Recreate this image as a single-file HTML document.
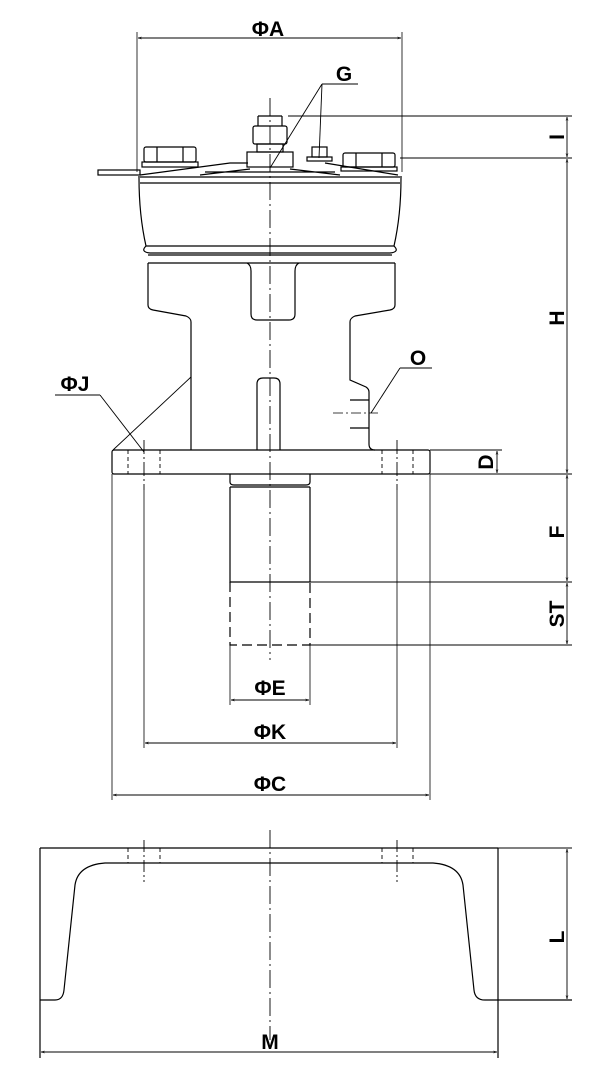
<!DOCTYPE html>
<html><head><style>html,body{margin:0;padding:0;background:#fff}svg{display:block}</style></head>
<body>
<svg width="600" height="1073" viewBox="0 0 600 1073" xmlns="http://www.w3.org/2000/svg" font-family="Liberation Sans, sans-serif" font-weight="bold" font-size="21">
<defs>
<marker id="a" viewBox="0 0 10 10" refX="10" refY="5" markerWidth="6" markerHeight="4" orient="auto-start-reverse"><path d="M0,2 L10,5 L0,8" fill="none" stroke="#000" stroke-width="1.2"/></marker>
</defs>
<g stroke="#000" stroke-width="1.2" fill="none">
<line x1="270" y1="98" x2="270" y2="660" stroke-dasharray="18,4,2,4" stroke-width="0.9"/>
<line x1="137" y1="32" x2="137" y2="172" stroke-width="0.8"/>
<line x1="402" y1="32" x2="402" y2="172" stroke-width="0.8"/>
<line x1="138" y1="38" x2="401" y2="38" stroke-width="0.9" marker-start="url(#a)" marker-end="url(#a)"/>
<line x1="322" y1="84" x2="358" y2="84" stroke-width="0.9"/>
<line x1="322" y1="84" x2="270" y2="168" stroke-width="0.9"/>
<line x1="322" y1="84" x2="319" y2="158" stroke-width="0.9"/>
<rect x="98" y="170" width="42" height="5"/>
<rect x="144" y="147" width="52" height="15" rx="2"/>
<line x1="157" y1="147" x2="157" y2="162"/><line x1="183" y1="147" x2="183" y2="162"/>
<rect x="142" y="162" width="56" height="5"/>
<rect x="343" y="153" width="52" height="14" rx="2"/>
<line x1="356" y1="153" x2="356" y2="167"/><line x1="382" y1="153" x2="382" y2="167"/>
<rect x="341" y="167" width="56" height="4"/>
<line x1="258" y1="126" x2="258" y2="116"/><line x1="282" y1="126" x2="282" y2="116"/><line x1="258" y1="116" x2="282" y2="116"/>
<rect x="253" y="126" width="34" height="18" rx="2"/>
<rect x="257" y="144" width="26" height="8"/>
<rect x="247" y="152" width="46" height="15"/>
<rect x="312" y="147" width="15" height="10"/>
<rect x="307" y="157" width="25" height="4"/>
<path d="M140,175 L230,163 L248,163 M398,175 L325,163 M200,175 L250,169 M340,175 L290,169 M205,172 L335,172"/>
<path d="M138,177 L402,177"/>
<path d="M140,183 L400,183 M139,178 Q139,215 146,246 L394,246 Q401,215 401,178"/>
<path d="M146,246 Q140,252 150,253 L390,253 Q400,252 394,246"/>
<path d="M148,255 L392,255"/>
<path d="M148,263 L395,263 M148,263 L148,305 Q148,309 153,310 L186,316 Q191,318 191,322 L191,450 M395,263 L395,305 Q395,309 390,310 L355,316 Q350,318 350,322 L350,380 L366,387 Q369,389 369,392 L369,444 Q369,450 375,450"/>
<path d="M247,263 Q251,265 251,271 L251,314 Q251,320 257,320 L289,320 Q295,320 295,314 L295,271 Q295,265 299,263"/>
<path d="M257,450 L257,384 Q257,378 263,378 L274,378 Q280,378 280,384 L280,450"/>
<line x1="350" y1="400" x2="369" y2="400"/><line x1="350" y1="428" x2="369" y2="428"/>
<line x1="333" y1="413" x2="378" y2="413" stroke-width="0.8" stroke-dasharray="10,3,2,3"/>
<line x1="191" y1="377" x2="113" y2="450" stroke-width="0.9"/>
<rect x="112" y="450" width="318" height="24" rx="2"/>
<g stroke-dasharray="4,3" stroke-width="0.9"><line x1="128" y1="450" x2="128" y2="474"/><line x1="160" y1="450" x2="160" y2="474"/><line x1="382" y1="450" x2="382" y2="474"/><line x1="413" y1="450" x2="413" y2="474"/></g>
<g stroke-dasharray="14,3,2,3" stroke-width="0.9"><line x1="144" y1="440" x2="144" y2="490"/><line x1="397" y1="440" x2="397" y2="490"/></g>
<path d="M230,474 L230,482 Q230,485 234,485 L306,485 Q310,485 310,482 L310,474"/>
<path d="M230,487 L230,582 L310,582 L310,487 M230,487 L310,487"/>
<path d="M230,582 L230,645 L310,645 L310,582" stroke-dasharray="10,5"/>
<line x1="310" y1="582" x2="572" y2="582" stroke-width="0.9"/>
<line x1="310" y1="645" x2="572" y2="645" stroke-width="0.9"/>
<line x1="230" y1="645" x2="230" y2="705" stroke-width="0.8"/>
<line x1="310" y1="645" x2="310" y2="705" stroke-width="0.8"/>
<line x1="231" y1="700" x2="309" y2="700" stroke-width="0.9" marker-start="url(#a)" marker-end="url(#a)"/>
<line x1="144" y1="490" x2="144" y2="748" stroke-width="0.8"/>
<line x1="397" y1="490" x2="397" y2="748" stroke-width="0.8"/>
<line x1="145" y1="743" x2="396" y2="743" stroke-width="0.9" marker-start="url(#a)" marker-end="url(#a)"/>
<line x1="112" y1="474" x2="112" y2="800" stroke-width="0.8"/>
<line x1="430" y1="474" x2="430" y2="800" stroke-width="0.8"/>
<line x1="113" y1="795" x2="429" y2="795" stroke-width="0.9" marker-start="url(#a)" marker-end="url(#a)"/>
<line x1="288" y1="116" x2="572" y2="116" stroke-width="0.9"/>
<line x1="400" y1="158" x2="572" y2="158" stroke-width="0.9"/>
<line x1="430" y1="474" x2="572" y2="474" stroke-width="0.9"/>
<line x1="430" y1="450" x2="502" y2="450" stroke-width="0.9"/>
<line x1="567" y1="117" x2="567" y2="157" stroke-width="0.9" marker-start="url(#a)" marker-end="url(#a)"/>
<line x1="567" y1="159" x2="567" y2="473" stroke-width="0.9" marker-start="url(#a)" marker-end="url(#a)"/>
<line x1="567" y1="475" x2="567" y2="581" stroke-width="0.9" marker-start="url(#a)" marker-end="url(#a)"/>
<line x1="567" y1="583" x2="567" y2="644" stroke-width="0.9" marker-start="url(#a)" marker-end="url(#a)"/>
<line x1="497" y1="451" x2="497" y2="473" stroke-width="0.9" marker-start="url(#a)" marker-end="url(#a)"/>
<line x1="55" y1="395" x2="100" y2="395" stroke-width="0.9"/>
<line x1="100" y1="395" x2="144" y2="452" stroke-width="0.9"/>
<line x1="400" y1="368" x2="432" y2="368" stroke-width="0.9"/>
<line x1="400" y1="368" x2="371" y2="413" stroke-width="0.9"/>
<line x1="270" y1="830" x2="270" y2="1040" stroke-dasharray="18,4,2,4" stroke-width="0.9"/>
<path d="M40,848 L498,848 M40,848 L40,1058 M498,848 L498,1058"/>
<path d="M40,1000 L55,1000 Q63,1000 64,990 L75,885 Q78,865 105,863 L433,863 Q460,865 463,885 L474,990 Q475,1000 485,1000 L572,1000"/>
<g stroke-dasharray="4,3" stroke-width="0.9"><line x1="128" y1="848" x2="128" y2="863"/><line x1="160" y1="848" x2="160" y2="863"/><line x1="382" y1="848" x2="382" y2="863"/><line x1="413" y1="848" x2="413" y2="863"/></g>
<g stroke-dasharray="12,3,2,3" stroke-width="0.9"><line x1="144" y1="840" x2="144" y2="882"/><line x1="397" y1="840" x2="397" y2="882"/></g>
<line x1="498" y1="848" x2="572" y2="848" stroke-width="0.9"/>
<line x1="567" y1="849" x2="567" y2="999" stroke-width="0.9" marker-start="url(#a)" marker-end="url(#a)"/>
<line x1="41" y1="1052" x2="497" y2="1052" stroke-width="0.9" marker-start="url(#a)" marker-end="url(#a)"/>
</g>
<g fill="#000">
<text x="268" y="36" text-anchor="middle">ΦA</text>
<text x="344" y="81" text-anchor="middle">G</text>
<text x="75" y="391" text-anchor="middle">ΦJ</text>
<text x="418" y="365" text-anchor="middle">O</text>
<text x="270" y="695" text-anchor="middle">ΦE</text>
<text x="270" y="739" text-anchor="middle">ΦK</text>
<text x="270" y="791" text-anchor="middle">ΦC</text>
<text x="270" y="1049" text-anchor="middle">M</text>
<g text-anchor="middle">
<text transform="translate(564,137) rotate(-90)">I</text>
<text transform="translate(564,318) rotate(-90)">H</text>
<text transform="translate(493,462) rotate(-90)">D</text>
<text transform="translate(564,532) rotate(-90)">F</text>
<text transform="translate(564,614) rotate(-90)">ST</text>
<text transform="translate(564,937) rotate(-90)">L</text>
</g>
</g>
</svg>
</body></html>
